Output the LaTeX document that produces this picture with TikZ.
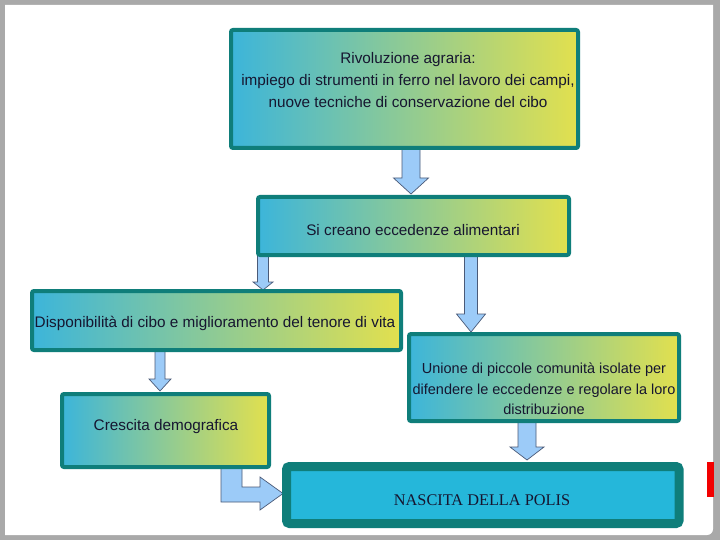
\documentclass[tikz,border=0pt]{standalone}
\usepackage{fontspec}
\setmainfont{Liberation Sans}
\newfontfamily\polisfont{Liberation Serif}
\definecolor{framegray}{HTML}{A9A9A9}
\definecolor{tealb}{HTML}{0F7E7A}
\definecolor{gl}{HTML}{3CB5DA}
\definecolor{gm}{HTML}{8ED39C}
\definecolor{gr}{HTML}{E2E04E}
\definecolor{arrowfill}{HTML}{9CCBF8}
\definecolor{arrowline}{HTML}{4A5A78}
\definecolor{txt}{HTML}{161630}
\definecolor{poliscyan}{HTML}{25B7DA}
\definecolor{redbar}{HTML}{F20000}
\tikzset{
  gbox/.style={draw=tealb, line width=4pt, rounded corners=2pt,
    left color=gl, middle color=gm, right color=gr, inner sep=0pt},
  btext/.style={text=txt, font=\fontsize{15.3}{22}\selectfont, align=center, inner sep=0pt},
  barrow/.style={fill=arrowfill, draw=arrowline, line width=0.7pt, line join=miter},
}
\newcommand\blkdown[6]{% x, ytop, ytip, halfshaft, halfhead, headstart
  \filldraw[barrow] ({#1-#4},#2) -- ({#1-#4},#6) -- ({#1-#5},#6) -- (#1,#3)
    -- ({#1+#5},#6) -- ({#1+#4},#6) -- ({#1+#4},#2);}
\begin{document}
\begin{tikzpicture}[x=1pt,y=-1pt]
\useasboundingbox (0,0) rectangle (720,540);
\fill[framegray] (0,0) rectangle (720,540);
\fill[white] (5,5) -- (713,5) [rounded corners=6pt]-- (713,535) [sharp corners]-- (5,535) -- cycle;

% block arrows
\blkdown{411}{149}{194}{9}{17.5}{178}
\blkdown{263}{256}{290}{5.5}{10}{282}
\blkdown{471}{256}{332}{6.5}{14.5}{314}
\blkdown{160}{351}{391}{5}{11}{379}
\blkdown{527}{422}{460}{9}{17}{447}
\filldraw[barrow] (242,468) -- (221,468) -- (221,502) -- (260,502) -- (260,510)
  -- (283,493.5) -- (260,477) -- (260,487) -- (242,487) -- cycle;

% boxes
\node[gbox, minimum width=347pt, minimum height=118pt] (b1) at (404.5,89) {};
\node[btext] (t1) at (408,80) {Rivoluzione agraria:\\impiego di strumenti in ferro nel lavoro dei campi,\\nuove tecniche di conservazione del cibo};
\node[gbox, minimum width=311pt, minimum height=58pt] (b2) at (413.5,226) {};
\node[btext] (t2) at (413,230) {Si creano eccedenze alimentari};
\node[gbox, minimum width=369pt, minimum height=59pt] (b3) at (216.5,320.5) {};
\node[btext] (t3) at (215,323) {Disponibilità di cibo e miglioramento del tenore di vita};
\node[gbox, minimum width=270pt, minimum height=87pt] (b4) at (544,377.5) {};
\node[btext, font=\fontsize{14.5}{20.5}\selectfont] (t4) at (544,389) {Unione di piccole comunità isolate  per\\difendere le eccedenze e regolare la loro\\distribuzione};
\node[gbox, minimum width=207pt, minimum height=73pt] (b5) at (165.5,430.5) {};
\node[btext] (t5) at (166,427) {Crescita demografica};
\node[draw=tealb, line width=9pt, rounded corners=3pt, fill=poliscyan, minimum width=392.5pt, minimum height=57pt, inner sep=0pt] (b6) at (482.75,495) {};
\node[text=txt, font=\polisfont\fontsize{16.3}{18}\selectfont, inner sep=0pt] (t6) at (482,500) {NASCITA DELLA POLIS};

\fill[redbar] (707,462) rectangle (714,497);
\end{tikzpicture}
\end{document}
